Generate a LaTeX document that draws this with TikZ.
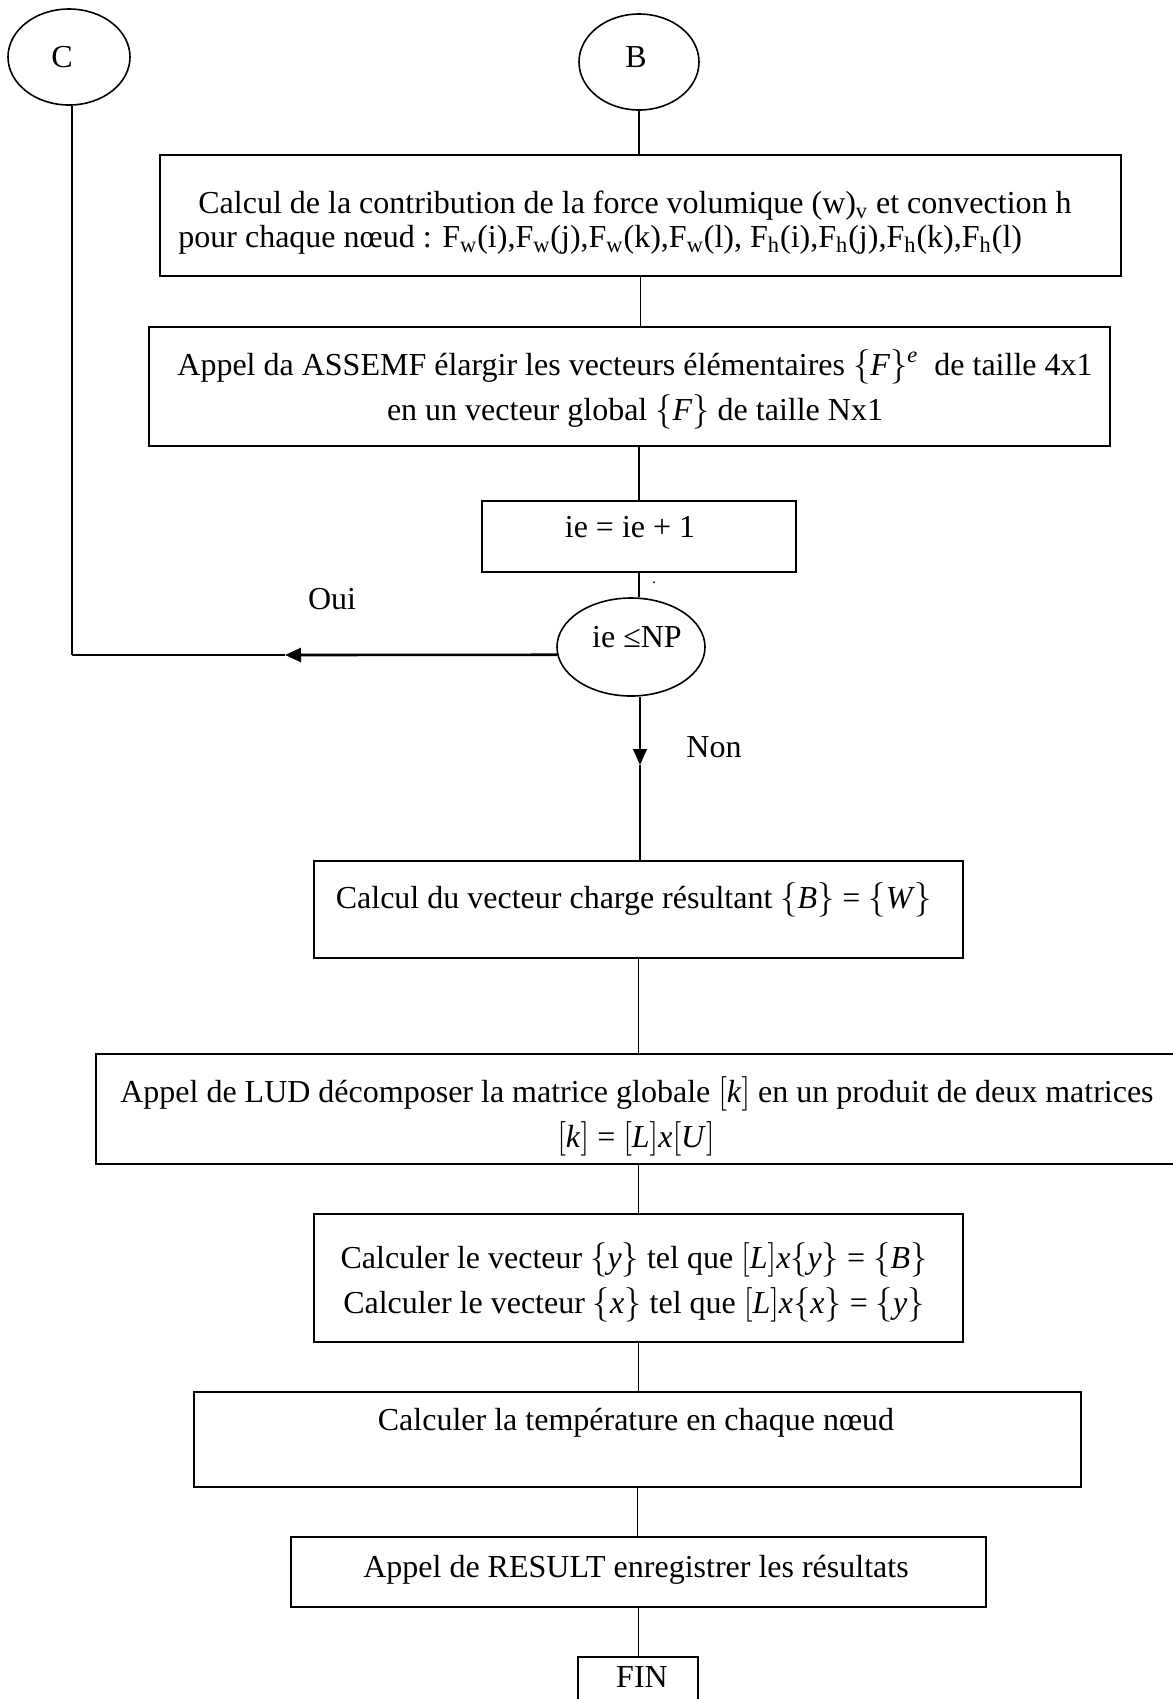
\documentclass[tikz,border=0pt]{standalone}
\usepackage{fontspec}
\setmainfont{Liberation Serif}
\usetikzlibrary{arrows.meta,shapes.geometric}
% vectors in braces, matrices in brackets
\newcommand\cb[1]{$\bigl\{$\textit{#1}$\bigr\}$}
\newcommand\sqb[1]{$\bigl[$\textit{#1}$\bigr]$}

\begin{document}
\begin{tikzpicture}[x=0.5pt,y=-0.5pt,
  font=\fontsize{16}{19}\selectfont,
  box/.style={draw, line width=0.8pt, rectangle, inner sep=0pt},
  oval/.style={draw, line width=0.8pt, ellipse, inner sep=0pt},
  txt/.style={anchor=base, inner sep=0pt},
  link/.style={line width=0.6pt},
  tip/.style={-{Triangle[length=8pt,width=7pt]}}]
\useasboundingbox (0,0) rectangle (1173,1699);

% connectors to other pages
\node[oval, minimum width=61pt, minimum height=48pt] (C) at (69,57) {};
\node[oval, minimum width=60pt, minimum height=48pt] (B) at (639,62) {};
\node[txt] (Ct) at (62,67) {C};
\node[txt] (Bt) at (636,67) {B};

% process boxes
\node[box, minimum width=480.5pt, minimum height=60.5pt] (b1) at (640.5,215.5) {};
\node[box, minimum width=480.5pt, minimum height=59.5pt] (b2) at (629.5,386.5) {};
\node[box, minimum width=157pt, minimum height=35.5pt] (ie) at (639,536.5) {};
\node[oval, minimum width=74pt, minimum height=49pt] (dec) at (631,647) {};
\node[box, minimum width=324.5pt, minimum height=48.5pt] (bw) at (638.5,909.5) {};
\node[box, minimum width=552pt, minimum height=55pt] (lud) at (648,1109) {};
\node[box, minimum width=324.5pt, minimum height=64pt] (yx) at (638.5,1278) {};
\node[box, minimum width=443.5pt, minimum height=47.5pt] (temp) at (637.5,1439.5) {};
\node[box, minimum width=347.5pt, minimum height=35pt] (res) at (638.5,1572) {};
\node[box, minimum width=60pt, minimum height=31.5pt] (fin) at (638,1688.5) {};

% texts
\node[txt] (b1a) at (635,213) {Calcul de la contribution de la force volumique (w)\textsubscript{v} et convection h};
\node[txt, anchor=base west] (b1b) at (178,247) {pour chaque nœud : F\textsubscript{w}(i),F\textsubscript{w}(j),F\textsubscript{w}(k),F\textsubscript{w}(l), F\textsubscript{h}(i),F\textsubscript{h}(j),F\textsubscript{h}(k),F\textsubscript{h}(l)};
\node[txt] (b2a) at (635,375) {Appel da ASSEMF élargir les vecteurs élémentaires \cb{F}\textsuperscript{\textit{e}}\ \ de taille 4x1};
\node[txt] (b2b) at (635,420) {en un vecteur global \cb{F} de taille Nx1};
\node[txt] (iet) at (630,537) {ie = ie + 1};
\node[txt, font=\fontsize{8}{8}\selectfont] (dot) at (654,583) {.};
\node[txt] (dect) at (637,647) {ie ≤NP};
\node[txt] (oui) at (332,609) {Oui};
\node[txt] (non) at (714,757) {Non};
\node[txt] (bwt) at (634,908) {Calcul du vecteur charge résultant \cb{B} = \cb{W}};
\node[txt] (luda) at (637,1102) {Appel de LUD décomposer la matrice globale \sqb{k} en un produit de deux matrices};
\node[txt] (ludb) at (636,1147) {\sqb{k} = \sqb{L}\textit{x}\sqb{U}};
\node[txt] (yxa) at (634,1268) {Calculer le vecteur \cb{y} tel que \sqb{L}\textit{x}\cb{y} = \cb{B}};
\node[txt] (yxb) at (634,1313) {Calculer le vecteur \cb{x} tel que \sqb{L}\textit{x}\cb{x} = \cb{y}};
\node[txt] (tempt) at (636,1430) {Calculer la température en chaque nœud};
\node[txt] (rest) at (636,1577) {Appel de RESULT enregistrer les résultats};
\node[txt] (fint) at (642,1687) {FIN};

% flow lines
\draw[link] (B.south) -- (B.south |- b1.north);
\draw[link] (b1.south) -- (b1.south |- b2.north);
\draw[link] (ie.north |- b2.south) -- (ie.north);
\draw[link] (ie.south) -- (ie.south |- dec.north);

% loop back (Oui)
\coordinate (ouimid) at (285,655);
\coordinate (corner) at (72,655);
\draw[line width=1.3pt, tip] (dec.186) -- (ouimid);
\draw[link] (ouimid) -- (corner);
\draw[link] (corner |- C.south) -- (corner);

% exit (Non)
\coordinate (nonmid) at (640,765);
\draw[link, tip] (nonmid |- dec.south) -- (nonmid);
\draw[link] (nonmid) -- (nonmid |- bw.north);

\draw[link] (bw.south) -- (bw.south |- lud.north);
\draw[link] (yx.north |- lud.south) -- (yx.north);
\draw[link] (yx.south) -- (yx.south |- temp.north);
\draw[link] (temp.south) -- (temp.south |- res.north);
\draw[link] (res.south) -- (res.south |- fin.north);
\end{tikzpicture}
\end{document}
